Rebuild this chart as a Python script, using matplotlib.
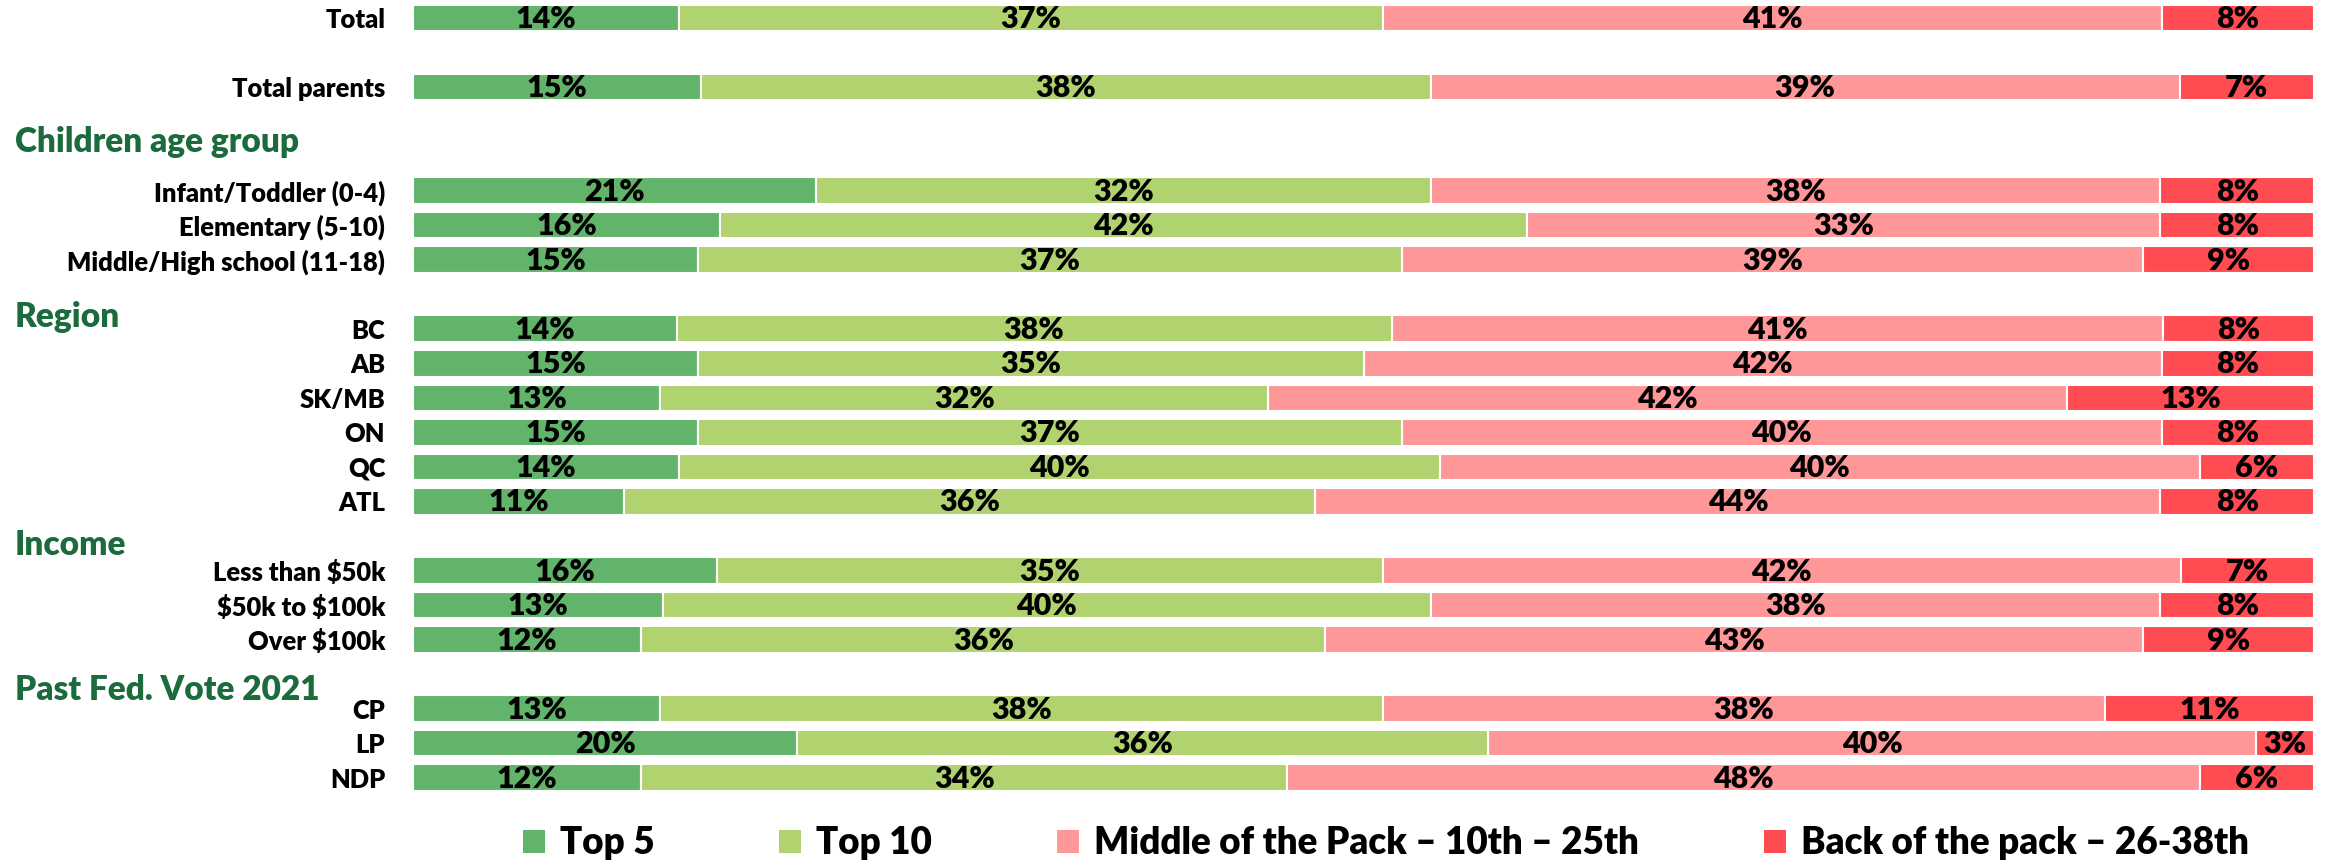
import matplotlib.pyplot as plt
from matplotlib.patches import Patch
from matplotlib.transforms import blended_transform_factory

plt.rcParams['font.family'] = ['Lato', 'DejaVu Sans']

# Data
series_names = ["Top 5", "Top 10", "Middle of the Pack \u2013 10th \u2013 25th",
                "Back of the pack \u2013 26-38th"]
colors = ["#63b46b", "#b1d36f", "#ff9799", "#ff4b52"]

groups = [None, None, "Children age group", "Region", "Income", "Past Fed. Vote 2021"]
group_rows = [
    ["Total"],
    ["Total parents"],
    ["Infant/Toddler (0-4)", "Elementary (5-10)", "Middle/High school (11-18)"],
    ["BC", "AB", "SK/MB", "ON", "QC", "ATL"],
    [r"Less than \$50k", r"\$50k to \$100k", r"Over \$100k"],
    ["CP", "LP", "NDP"],
]

top5 = [14, 15, 21, 16, 15, 14, 15, 13, 15, 14, 11, 16, 13, 12, 13, 20, 12]
top10 = [37, 38, 32, 42, 37, 38, 35, 32, 37, 40, 36, 35, 40, 36, 38, 36, 34]
middle = [41, 39, 38, 33, 39, 41, 42, 42, 40, 40, 44, 42, 38, 43, 38, 40, 48]
back = [8, 7, 8, 8, 9, 8, 8, 13, 8, 6, 8, 7, 8, 9, 11, 3, 6]

# Layout: gap (in rows) before each group, and where each header sits
gaps = [0, 1, 2, 1, 1, 1]
header_offset = [0, 0, -1.4, -0.35, -0.75, -0.55]


def main():
    fig = plt.figure(figsize=(23.29, 8.66), dpi=100)
    ax = fig.add_axes([413 / 2329, 1 - 795 / 866, (2314 - 413) / 2329, 795 / 866])

    labels, ypos, headers = [], [], []
    y = 0
    for name, rows, gap, off in zip(groups, group_rows, gaps, header_offset):
        y += gap
        if name:
            headers.append((name, y + off))
        for r in rows:
            labels.append(r)
            ypos.append(y)
            y += 1

    series = [top5, top10, middle, back]
    totals = [sum(v) for v in zip(*series)]
    left = [0.0] * len(labels)
    for vals, col in zip(series, colors):
        widths = [v / t * 100 for v, t in zip(vals, totals)]
        ax.barh(ypos, widths, left=left, height=0.77, color=col,
                edgecolor="white", linewidth=1.5)
        for yy, l, w, v in zip(ypos, left, widths, vals):
            ax.text(l + w / 2, yy + 0.03, f"{v}%", ha="center", va="center",
                    fontsize=22, fontweight="heavy", color="black")
        left = [l + w for l, w in zip(left, widths)]

    ax.set_xlim(0, 100)
    ax.set_ylim(22.5, -0.52)
    ax.set_yticks(ypos, labels, fontsize=18.4, fontweight="heavy")
    ax.tick_params(axis="y", length=0, pad=20)
    ax.set_xticks([])
    for s in ax.spines.values():
        s.set_visible(False)

    trans = blended_transform_factory(fig.transFigure, ax.transData)
    for name, hy in headers:
        ax.text(15 / 2329, hy, name, transform=trans, ha="left", va="center",
                fontsize=24, fontweight="heavy", color="#1b6b3c", clip_on=False)

    handles = [Patch(facecolor=c, edgecolor="none") for c in colors]
    fig.legend(handles, series_names, loc="center", bbox_to_anchor=(0.595, 0.026),
               ncol=4, frameon=False, handlelength=0.6, handleheight=0.6,
               handletextpad=0.4, columnspacing=3.4,
               prop={"size": 26.5, "weight": "heavy"})

    fig.savefig("out.png", dpi=100)


if __name__ == "__main__":
    main()
